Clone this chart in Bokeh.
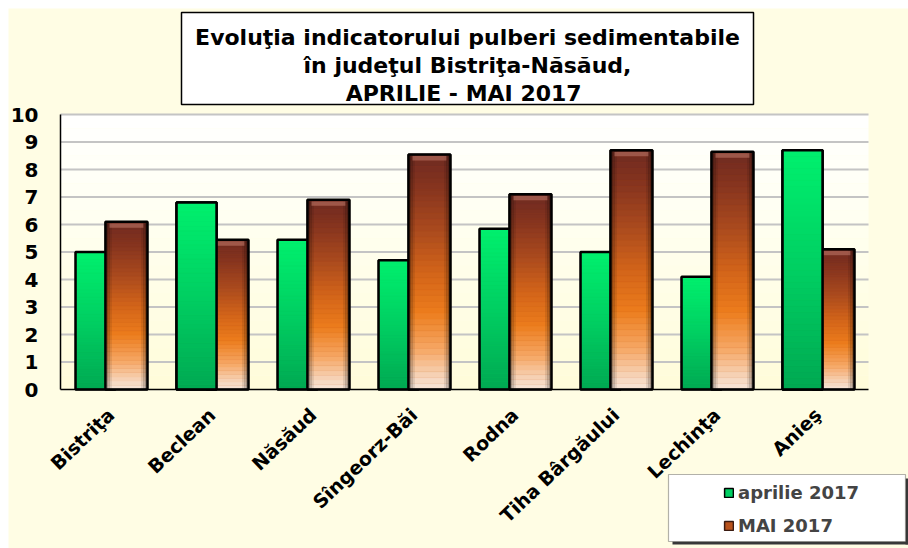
import numpy as np
from bokeh.plotting import figure
from bokeh.models import (Range1d, ColumnDataSource, BoxAnnotation, Label, Legend,
                          LegendItem, FixedTicker)
from bokeh.transform import dodge
from bokeh.embed import file_html
from bokeh.resources import INLINE

# ---------------- data ----------------
categories = ["Bistriţa", "Beclean", "Năsăud", "Sîngeorz-Băi", "Rodna",
              "Tiha Bârgăului", "Lechinţa", "Anieş"]
aprilie_2017 = [5.0, 6.8, 5.45, 4.7, 5.85, 5.0, 4.1, 8.7]
mai_2017 = [6.1, 5.45, 6.9, 8.55, 7.1, 8.7, 8.65, 5.1]
series_names = ["aprilie 2017", "MAI 2017"]
y_ticks = [0, 1, 2, 3, 4, 5, 6, 7, 8, 9, 10]
title_lines = ["Evoluţia indicatorului pulberi sedimentabile",
               "în judeţul Bistriţa-Năsăud,",
               "APRILIE - MAI  2017"]

# ---------------- layout (canvas px) ----------------
W, H = 900, 540
FL = 52                   # canvas x of the value axis
Y0_PX, Y10_PX = 381, 106  # canvas y of value 0 and value 10
YMAX = 10
PX_Y = (Y0_PX - Y10_PX) / YMAX
PX_X = 101.0              # px per category
FONT = "DejaVu Sans"
NCAT = len(categories)

x_start = -FL / PX_X
x_end = (W - FL) / PX_X
y_start = -(H - Y0_PX) / PX_Y
y_end = Y0_PX / PX_Y


def dx(cx):
    return (cx - FL) / PX_X


def dy(cy):
    return (Y0_PX - cy) / PX_Y


def hex2rgb(h):
    h = h.lstrip("#")
    return tuple(int(h[i:i + 2], 16) for i in (0, 2, 4))


def interp(stops, f):
    for (p0, c0), (p1, c1) in zip(stops[:-1], stops[1:]):
        if p0 <= f <= p1:
            t = (f - p0) / (p1 - p0) if p1 > p0 else 0
            a, b = hex2rgb(c0), hex2rgb(c1)
            return "#%02x%02x%02x" % tuple(int(round(a[i] + (b[i] - a[i]) * t)) for i in range(3))
    return stops[-1][1]


GREEN_STOPS = [(0.0, "#00A852"), (0.5, "#00CF62"), (1.0, "#00F06E")]
BROWN_STOPS = [(0.0, "#F7E6DA"), (0.06, "#F6D2B6"), (0.17, "#F6A866"),
               (0.33, "#EC7C1C"), (0.5, "#D2641A"), (0.68, "#AA4A1E"),
               (0.86, "#86341F"), (1.0, "#6E2A20")]
CREAM = "#FFFDE4"

p = figure(x_range=Range1d(x_start, x_end), y_range=Range1d(y_start, y_end),
           frame_width=W, frame_height=H,
           min_border_left=0, min_border_right=0, min_border_top=0, min_border_bottom=0,
           output_backend="svg", toolbar_location=None,
           background_fill_color=CREAM, border_fill_color=CREAM,
           outline_line_color=None)
p.margin = (8, 0, 0, 8)
p.xgrid.visible = False
p.ygrid.visible = False

# plot-area background gradient (white top -> pale yellow bottom)
nb = 20
for i in range(nb):
    f = (i + 0.5) / nb
    col = interp([(0.0, "#FFFCD9"), (0.6, "#FFFFF0"), (1.0, "#FFFFFF")], f)
    p.add_layout(BoxAnnotation(left=0, right=NCAT, bottom=YMAX * i / nb,
                               top=YMAX * (i + 1) / nb, fill_color=col, fill_alpha=1,
                               line_color=None, level="image"))

# horizontal grid lines at the y ticks
p.segment(x0=0, x1=NCAT, y0=y_ticks[1:], y1=y_ticks[1:], line_color="#C4C4C4", line_width=2)

cat_x = [i + 0.5 for i in range(NCAT)]
N = 40


def draw_bars(xs_c, vals, offset, width, stops, base_fill, base_line, shade=False):
    osrc = ColumnDataSource(dict(x=list(xs_c), top=list(vals)))
    base = p.vbar(x=dodge("x", offset), top="top", bottom=0, width=width, source=osrc,
                  fill_color=base_fill, line_color=base_line, line_width=1.5)
    xs, bots, tops, cols = [], [], [], []
    for c, v in zip(xs_c, vals):
        for k in range(N):
            xs.append(c)
            bots.append(v * k / N)
            tops.append(v * (k + 1) / N)
            cols.append(interp(stops, (k + 0.5) / N))
    src = ColumnDataSource(dict(x=xs, bottom=bots, top=tops, color=cols))
    p.vbar(x=dodge("x", offset), bottom="bottom", top="top", width=width, source=src,
           fill_color="color", line_color="color", line_width=0.5)
    if shade:
        for side in (-1, 1):
            for j, a in enumerate([0.32, 0.2, 0.09]):
                p.vbar(x=dodge("x", offset + side * (width / 2 - 0.012 - 0.02 * j)),
                       top="top", bottom=0, width=0.024, source=osrc,
                       fill_color="black", fill_alpha=a, line_color=None)
        hsrc = ColumnDataSource(dict(x=list(xs_c), top=[v - 0.06 for v in vals],
                                     bottom=[v - 0.22 for v in vals]))
        p.vbar(x=dodge("x", offset), top="top", bottom="bottom", width=width - 0.08,
               source=hsrc, fill_color="#C27C6C", fill_alpha=0.55, line_color=None)
    p.vbar(x=dodge("x", offset), top="top", bottom=0, width=width, source=osrc,
           fill_color=None, line_color="black", line_width=2.5)
    return base


G_OFF, G_W = -0.153, 0.396
B_OFF, B_W = 0.153, 0.416

r_green = draw_bars(cat_x, aprilie_2017, G_OFF, G_W, GREEN_STOPS, "#00D062", "black")
r_brown = draw_bars(cat_x, mai_2017, B_OFF, B_W, BROWN_STOPS, "#B8521C", "#3A1A10", shade=True)
front = [i for i in range(NCAT) if aprilie_2017[i] > mai_2017[i]]
draw_bars([cat_x[i] for i in front], [aprilie_2017[i] for i in front], G_OFF, G_W,
          GREEN_STOPS, "#00D062", "black")

# axes (drawn at fixed data positions inside the full-canvas frame)
xa, ya = p.xaxis[0], p.yaxis[0]
for ax in (xa, ya):
    ax.fixed_location = 0
    ax.axis_line_color = "black"
    ax.axis_line_width = 1.5
    ax.major_tick_line_color = None
    ax.minor_tick_line_color = None
    ax.major_tick_out = 0
    ax.major_tick_in = 0
    ax.major_label_text_font = FONT
    ax.major_label_text_font_style = "bold"
    ax.major_label_text_color = "black"
ya.ticker = FixedTicker(ticks=y_ticks)
ya.bounds = (0, YMAX)
ya.major_label_text_font_size = "20px"
ya.major_label_standoff = 22
xa.bounds = (0, NCAT)
xa.ticker = FixedTicker(ticks=cat_x)
xa.major_label_overrides = {x: c for x, c in zip(cat_x, categories)}
xa.major_label_text_font_size = "19px"
xa.major_label_orientation = 0.76
xa.major_label_standoff = 22

# title box
p.quad(left=dx(173), right=dx(745), top=dy(4), bottom=dy(96),
       fill_color="white", line_color="black", line_width=1.5)
for line, base in zip(title_lines, [29, 57, 85]):
    p.add_layout(Label(x=dx(459), y=dy(base), text=line, text_align="center",
                       text_baseline="alphabetic", text_font=FONT,
                       text_font_style="bold", text_font_size="22px",
                       text_color="black"))

# legend box with a drop shadow on its right and bottom sides
for l, r, t, b in [(897, 900, 470, 536), (664, 900, 533, 536)]:
    p.add_layout(BoxAnnotation(left=dx(l), right=dx(r), top=dy(t), bottom=dy(b),
                               fill_color="#383838", fill_alpha=1, line_color=None,
                               level="guide"))
p.add_layout(BoxAnnotation(left=dx(660), right=dx(897), top=dy(466), bottom=dy(533),
                           fill_color="white", fill_alpha=1, line_color="black",
                           line_width=1.2, level="guide"))

legend = Legend(items=[LegendItem(label=series_names[0], renderers=[r_green]),
                       LegendItem(label=series_names[1], renderers=[r_brown])],
                location=(715, H - 529), orientation="vertical",
                glyph_width=11, glyph_height=11, label_standoff=4, spacing=9,
                padding=0, margin=0, border_line_color=None, background_fill_alpha=0,
                label_text_font=FONT, label_text_font_style="bold",
                label_text_font_size="18px", label_height=24)
p.add_layout(legend)

open("out.html", "w").write(file_html(p, INLINE))
